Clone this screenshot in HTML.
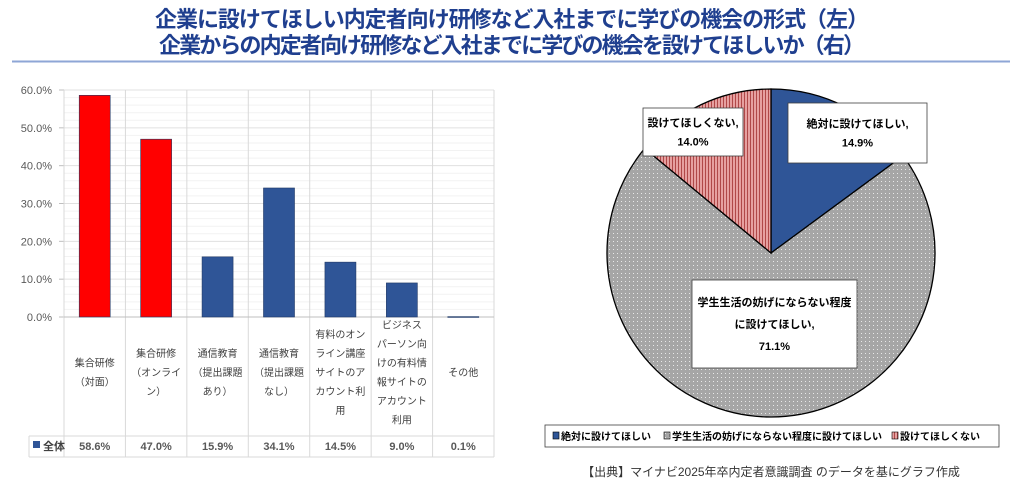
<!DOCTYPE html>
<html><head><meta charset="utf-8">
<style>
body{margin:0;width:1024px;height:486px;background:#fff;overflow:hidden;font-family:"Liberation Sans","Noto Sans CJK JP",sans-serif;}
svg text{font-family:"Liberation Sans","Noto Sans CJK JP",sans-serif;}
</style></head>
<body>
<svg id="c" width="1024" height="486" viewBox="0 0 1024 486">
<defs>
<pattern id="dots" width="4" height="4" patternUnits="userSpaceOnUse"><rect width="4" height="4" fill="#a6a6a6"/><rect x="1" y="1" width="1" height="1" fill="#e8e8e8"/></pattern>
<pattern id="stripes" width="3" height="4" patternUnits="userSpaceOnUse"><rect width="3" height="4" fill="#e6a0a0"/><rect x="0" width="1" height="4" fill="#b04848"/></pattern>
</defs>
<text x="512" y="27" text-anchor="middle" font-size="22" font-weight="bold" fill="#1f3f8f" textLength="714">企業に設けてほしい内定者向け研修など入社までに学びの機会の形式（左）</text>
<text x="512" y="53" text-anchor="middle" font-size="22" font-weight="bold" fill="#1f3f8f" textLength="706">企業からの内定者向け研修など入社までに学びの機会を設けてほしいか（右）</text>
<line x1="12" y1="61.5" x2="1010" y2="61.5" stroke="#8ea6d6" stroke-width="2"/>
<g id="bar"></g>
<g id="pie"></g>
<text x="771" y="476" text-anchor="middle" font-size="12" fill="#333">【出典】マイナビ2025年卒内定者意識調査 のデータを基にグラフ作成</text>
</svg>
<script>
const categories=[["集合研修","（対面）"],["集合研修","（オンライ","ン）"],["通信教育","（提出課題","あり）"],["通信教育","（提出課題","なし）"],["有料のオン","ライン講座","サイトのア","カウント利","用"],["ビジネス","パーソン向","けの有料情","報サイトの","アカウント","利用"],["その他"]];
const values=[58.6,47.0,15.9,34.1,14.5,9.0,0.1];
const valueLabels=["58.6%","47.0%","15.9%","34.1%","14.5%","9.0%","0.1%"];
const barColors=["#ff0000","#ff0000","#2f5597","#2f5597","#2f5597","#2f5597","#2f5597"];
const yTicks=[0,10,20,30,40,50,60];
const pieLabels=["絶対に設けてほしい","学生生活の妨げにならない程度に設けてほしい","設けてほしくない"];
const pieValues=[14.9,71.1,14.0];
const pieText=["14.9%","71.1%","14.0%"];
const NS="http://www.w3.org/2000/svg";
function mk(p,t,a,txt){const e=document.createElementNS(NS,t);for(const k in a)e.setAttribute(k,a[k]);if(txt!=null)e.textContent=txt;p.appendChild(e);return e;}
// bar chart
const bar=document.getElementById('bar');
const X0=64,X1=494,Y0=317,Y1=90,cw=(X1-X0)/values.length;
const y=v=>Y0-(v/60)*(Y0-Y1);
for(let v=0;v<=60;v+=2){const l=mk(bar,'line',{x1:X0,x2:X1,y1:y(v),y2:y(v),stroke:v%10?'#f2f2f2':'#e0e0e0'});}
yTicks.forEach(t=>{const e=mk(bar,'text',{x:52,y:y(t)+4,'text-anchor':'end','font-size':11,fill:'#595959'},t.toFixed(1)+'%');
const tk=mk(bar,'line',{x1:X0-5,x2:X0,y1:y(t),y2:y(t),stroke:'#bfbfbf'});});
for(let i=0;i<=values.length;i++){const l=mk(bar,'line',{x1:X0+i*cw,x2:X0+i*cw,y1:Y1,y2:457,stroke:'#d9d9d9'});}
mk(bar,'line',{x1:29,x2:X1,y1:436,y2:436,stroke:'#d9d9d9'});
mk(bar,'line',{x1:29,x2:X1,y1:457,y2:457,stroke:'#d9d9d9'});
mk(bar,'line',{x1:29,x2:29,y1:436,y2:457,stroke:'#d9d9d9'});
mk(bar,'line',{x1:X0,x2:X1,y1:Y0,y2:Y0,stroke:'#bfbfbf'});
values.forEach((v,i)=>{const bw=31,bx=X0+i*cw+(cw-bw)/2;
const r=mk(bar,'rect',{x:bx,y:y(v),width:bw,height:Math.max(Y0-y(v),0.8),fill:barColors[i],stroke:'#203864','stroke-width':0.6});

const lines=categories[i],lh=19,cy=372;const sy=cy-(lines.length-1)*lh/2;
lines.forEach((s,j)=>{const t=mk(bar,'text',{x:X0+i*cw+cw/2,y:sy+j*lh+4,'text-anchor':'middle','font-size':10,fill:'#404040'},s);});
const vt=mk(bar,'text',{x:X0+i*cw+cw/2,y:450,'text-anchor':'middle','font-size':11,'font-weight':'bold',fill:'#595959'},valueLabels[i]);});
const lk=mk(bar,'rect',{x:33,y:441,width:7,height:7,fill:'#2f5597'});
const lt=mk(bar,'text',{x:43,y:450,'font-size':11,'font-weight':'bold',fill:'#404040'},'全体');
// pie
const pie=document.getElementById('pie');
const cx=771,cy=253,R=164;const fills=['#2f5597','url(#dots)','url(#stripes)'];
const total=pieValues.reduce((a,b)=>a+b,0);let a0=-Math.PI/2;
pieValues.forEach((v,i)=>{const a1=a0+v/total*2*Math.PI;const large=a1-a0>Math.PI?1:0;
const d=`M${cx},${cy} L${cx+R*Math.cos(a0)},${cy+R*Math.sin(a0)} A${R},${R} 0 ${large} 1 ${cx+R*Math.cos(a1)},${cy+R*Math.sin(a1)} Z`;
const p=mk(pie,'path',{d:d,fill:fills[i],stroke:'#000','stroke-width':1.3});a0=a1;});
const boxes=[[788,103,139,60,["絶対に設けてほしい,"]],[692,280,165,88,["学生生活の妨げにならない程度","に設けてほしい,"]],[643,108,100,48,["設けてほしくない,"]]];
boxes.forEach((b,i)=>{const g=mk(pie,'g',{});
mk(g,'rect',{x:b[0],y:b[1],width:b[2],height:b[3],fill:'#fff',stroke:'#404040','stroke-width':0.8});
const lines=b[4].concat([pieText[i]]);const lh=i==1?22:19;const sy=b[1]+b[3]/2-(lines.length-1)*lh/2+4;
lines.forEach((s,j)=>mk(g,'text',{x:b[0]+b[2]/2,y:sy+j*lh,'text-anchor':'middle','font-size':11,'font-weight':'bold',fill:'#000'},s));});
const lg=mk(pie,'g',{});
mk(lg,'rect',{x:545,y:425,width:454,height:22,fill:'#fff',stroke:'#404040','stroke-width':0.8});
const lx=[561,672,900];
pieLabels.forEach((s,i)=>{const e=mk(lg,'rect',{x:lx[i]-8,y:432,width:6,height:7,fill:fills[i],stroke:'#000','stroke-width':0.6});
const t=mk(lg,'text',{x:lx[i],y:440,'font-size':10,'font-weight':'bold',fill:'#000'},s);});
</script>
</body></html>
